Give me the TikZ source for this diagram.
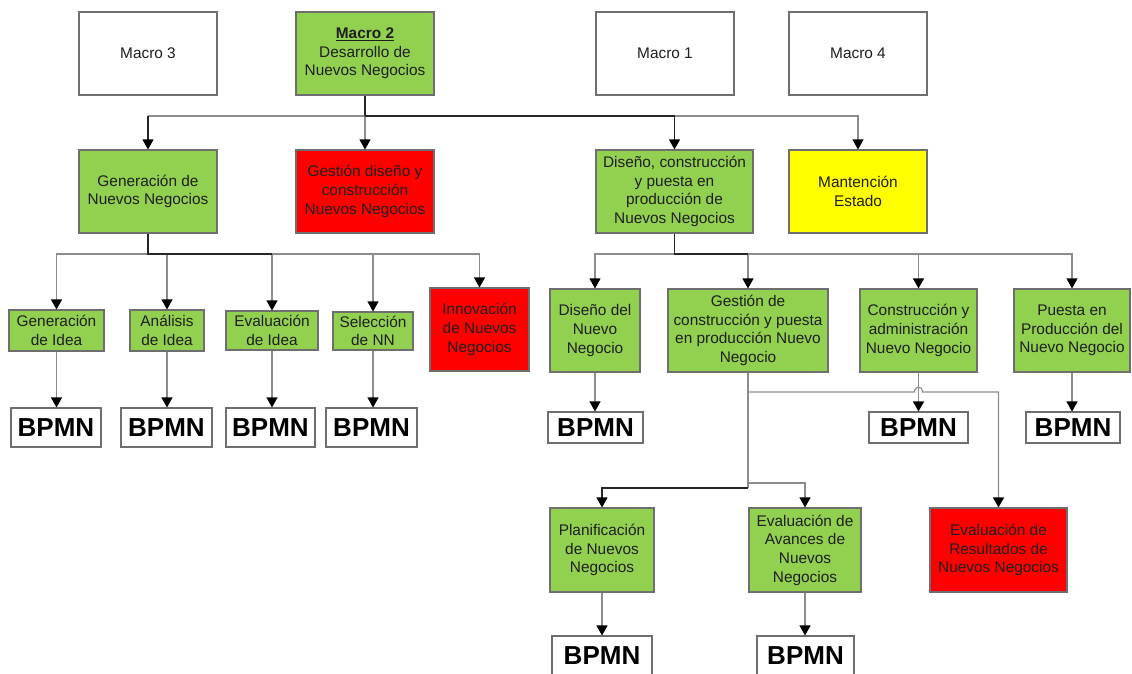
\documentclass[tikz,border=0pt]{standalone}
\usepackage{fontspec}
\setmainfont{Liberation Sans}
\usetikzlibrary{arrows.meta}

\definecolor{boxgreen}{HTML}{92D050}
\definecolor{boxred}{HTML}{FF0000}
\definecolor{boxyellow}{HTML}{FFFF00}
\definecolor{edgegray}{HTML}{6E6E6E}
\definecolor{linegray}{HTML}{8C8C8C}

\tikzset{
  box/.style={draw=edgegray, line width=1.1pt, inner sep=0pt, align=center,
    font=\fontsize{15.4}{18.7}\selectfont, text=black!88},
  wbox/.style={box, fill=white},
  gbox/.style={box, fill=boxgreen},
  rbox/.style={box, fill=boxred},
  ybox/.style={box, fill=boxyellow},
  bpmn/.style={box, fill=white, font=\fontsize{26}{30}\selectfont\bfseries, text=black},
  sz/.style 2 args={minimum width=#1pt, minimum height=#2pt},
  link/.style={draw=linegray, line width=1.1pt},
  conn/.style={link, -{Triangle[length=10pt,width=11pt,color=black]}},
  dark/.style={draw=black!85},
}

\begin{document}
\begin{tikzpicture}[x=1pt,y=-1pt]
\fill[white] (0,0) rectangle (1132,673);
\useasboundingbox (0,0) rectangle (1132,673);

% macro processes
\node[wbox, sz={138}{83}] (m3) at (148,53.5) {Macro 3};
\node[gbox, sz={138}{83}] (m2) at (365,53.5) {\textbf{\underline{Macro 2}}\\Desarrollo de\\Nuevos Negocios};
\node[wbox, sz={138}{83}] (m1) at (665,53.5) {Macro 1};
\node[wbox, sz={138}{83}] (m4) at (858,53.5) {Macro 4};

% second level
\node[gbox, sz={138}{83}] (gnn) at (148,191.5) {Generación de\\Nuevos Negocios};
\node[rbox, sz={138}{83}] (gdc) at (365,191.5) {Gestión diseño y\\construcción\\Nuevos Negocios};
\node[gbox, sz={157}{83}] (dcp) at (674.5,191.5) {Diseño, construcción\\y puesta en\\producción de\\Nuevos Negocios};
\node[ybox, sz={138}{83}] (mant) at (858,191.5) {Mantención\\Estado};

% third level, left branch
\node[gbox, sz={95}{41}] (gi) at (56.5,330.5) {Generación\\de Idea};
\node[gbox, sz={74}{41}] (ai) at (167,330.5) {Análisis\\de Idea};
\node[gbox, sz={92}{39}] (ei) at (272,330.5) {Evaluación\\de Idea};
\node[gbox, sz={80}{38}] (sn) at (373,331) {Selección\\de NN};
\node[rbox, sz={99}{83}] (inn) at (479.5,329.5) {Innovación\\de Nuevos\\Negocios};

% third level, right branch
\node[gbox, sz={90}{83}] (dnn) at (595,330.5) {Diseño del\\Nuevo\\Negocio};
\node[gbox, sz={160}{83}] (gcp) at (748,330.5) {Gestión de\\construcción y puesta\\en producción Nuevo\\Negocio};
\node[gbox, sz={117}{83}] (cadm) at (918.5,330.5) {Construcción y\\administración\\Nuevo Negocio};
\node[gbox, sz={116}{83}] (pprod) at (1072,330.5) {Puesta en\\Producción del\\Nuevo Negocio};

% fourth level
\node[gbox, sz={104}{84}] (plan) at (602,550) {Planificación\\de Nuevos\\Negocios};
\node[gbox, sz={112}{84}] (evav) at (805,550) {Evaluación de\\Avances de\\Nuevos\\Negocios};
\node[rbox, sz={137}{84}] (eres) at (998.5,550) {Evaluación de\\Resultados de\\Nuevos Negocios};

% BPMN models
\node[bpmn, sz={90}{39}] (bp1) at (56,427.5) {BPMN};
\node[bpmn, sz={91}{39}] (bp2) at (166.5,427.5) {BPMN};
\node[bpmn, sz={89}{39}] (bp3) at (270.5,427.5) {BPMN};
\node[bpmn, sz={91}{39}] (bp4) at (371.5,427.5) {BPMN};
\node[bpmn, sz={95}{31}] (bp5) at (595.5,427.5) {BPMN};
\node[bpmn, sz={99}{31}] (bp6) at (918.5,427.5) {BPMN};
\node[bpmn, sz={94}{31}] (bp7) at (1073,427.5) {BPMN};
\node[bpmn, sz={100}{40}] (bp8) at (602,656) {BPMN};
\node[bpmn, sz={97}{40}] (bp9) at (805.5,656) {BPMN};

% bus below Macro 2
\coordinate (b1) at (365,116);
\draw[conn] (b1) -| (mant.north);
\draw[conn] (b1) -- (gdc.north);
\draw[link] (b1) -- (b1 -| gnn.north);
\draw[conn, dark] (b1 -| gnn.north) -- (gnn.north);
\draw[conn, dark] (b1) -| (dcp.north);
\draw[link, dark] (m2.south) -- (b1);

% bus below Generación de Nuevos Negocios
\coordinate (b2) at (148,254);
\draw[conn] (b2) -| (gi.north);
\draw[conn] (b2) -| (ai.north);
\draw[conn] (b2) -| (ei.north);
\draw[conn] (b2) -| (sn.north);
\draw[conn] (b2) -| (inn.north);
\draw[link, dark] (gnn.south) -- (b2) -- (b2 -| ei.north);

\draw[conn] (gi.south) -- (gi.south |- bp1.north);
\draw[conn] (ai.south) -- (ai.south |- bp2.north);
\draw[conn] (ei.south) -- (ei.south |- bp3.north);
\draw[conn] (sn.south) -- (sn.south |- bp4.north);

% bus below Diseño, construcción y puesta en producción
\coordinate (b3) at (674.5,254);
\draw[conn] (b3) -| (dnn.north);
\draw[conn] (b3) -| (gcp.north);
\draw[conn] (b3) -| (cadm.north);
\draw[conn] (b3) -| (pprod.north);
\draw[link, dark] (dcp.south) -- (b3) -- (b3 -| gcp.north);

\draw[conn] (dnn.south) -- (dnn.south |- bp5.north);
\draw[conn] (cadm.south) -- (cadm.south |- bp6.north);
\draw[conn] (pprod.south) -- (pprod.south |- bp7.north);

% branches below Gestión de construcción y puesta en producción
\coordinate (g1) at (748,392);
\coordinate (g2) at (748,483);
\coordinate (g3) at (748,488);
\draw[link] (gcp.south) -- (g3);
\draw[conn] (g1) -- (914.5,392) .. controls (914.5,385.5) and (922.5,385.5) .. (922.5,392) -| (eres.north);
\draw[conn] (g2) -| (evav.north);
\draw[conn, dark] (g3) -| (plan.north);

\draw[conn] (plan.south) -- (plan.south |- bp8.north);
\draw[conn] (evav.south) -- (evav.south |- bp9.north);
\end{tikzpicture}
\end{document}
